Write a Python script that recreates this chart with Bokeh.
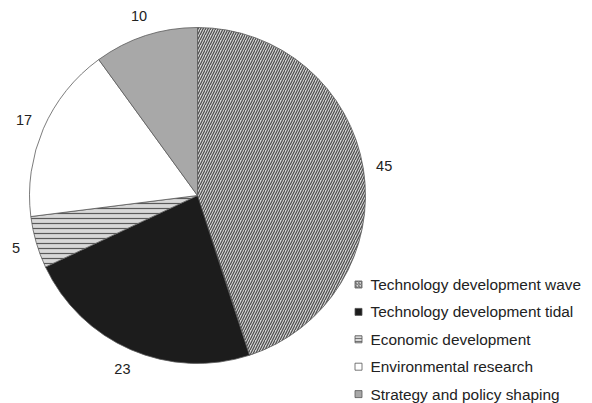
import math
from bokeh.plotting import figure
from bokeh.models import ColumnDataSource, Range1d
from bokeh.core.properties import value
from bokeh.embed import file_html
from bokeh.resources import INLINE

categories = ["Technology development wave", "Technology development tidal",
              "Economic development", "Environmental research", "Strategy and policy shaping"]
values = [45, 23, 5, 17, 10]
labels = ["45", "23", "5", "17", "10"]

fills = ["#d4d4d4", "#1c1c1c", "#d8d8d8", "white", "#a8a8a8"]
hatches = ["/", " ", "-", " ", " "]
hatch_colors = ["#4a4a4a", "#1c1c1c", "#5a5a5a", "#444444", "#444444"]

W, H = 592, 403
IMG_H = 403
cx, cy = 197, IMG_H - 195
R = 168

p = figure(width=W, height=H, output_backend="svg", toolbar_location=None,
           x_range=Range1d(0, W), y_range=Range1d(IMG_H - H, IMG_H),
           min_border=0)
p.axis.visible = False
p.grid.visible = False
p.outline_line_color = None
p.background_fill_color = "white"

total = sum(values)
starts, ends, mids = [], [], []
cum = 0.0
for v in values:
    a0 = math.pi / 2 - 2 * math.pi * cum / total
    cum += v
    a1 = math.pi / 2 - 2 * math.pi * cum / total
    starts.append(a0)
    ends.append(a1)
    mids.append((a0 + a1) / 2)

src = ColumnDataSource(dict(start=starts, end=ends, fill=fills, hatch=hatches, hc=hatch_colors))
p.wedge(x=cx, y=cy, radius=R, start_angle="start", end_angle="end", direction="clock",
        fill_color="fill", hatch_pattern="hatch", hatch_color="hc", hatch_scale=5,
        hatch_weight=1.2, line_color="#5a5a5a", line_width=0.8, source=src)

# value labels
rl = R + 21
lx = [cx + rl * math.cos(m) for m in mids]
ly = [cy + rl * math.sin(m) for m in mids]
p.text(x=lx, y=ly, text=labels, text_align="center", text_baseline="middle",
       text_font=value("Liberation Sans"), text_font_size="14.5px", text_color="#222222")

# legend
leg_y0 = IMG_H - 284
leg_dy = 27.4
ly2 = [leg_y0 - i * leg_dy for i in range(len(categories))]
lsrc = ColumnDataSource(dict(x=[358] * 5, y=ly2, fill=fills, hatch=hatches, hc=hatch_colors,
                             tx=[370] * 5, text=categories))
p.rect(x="x", y="y", width=7, height=7, fill_color="fill", hatch_pattern="hatch",
       hatch_color="hc", hatch_scale=3, hatch_weight=0.8, line_color="#555555",
       line_width=0.8, source=lsrc)
p.text(x="tx", y="y", text="text", text_align="left", text_baseline="middle",
       text_font=value("Liberation Sans"), text_font_size="15.4px", text_color="#222222",
       source=lsrc)

open("out.html", "w").write(file_html(p, INLINE))
